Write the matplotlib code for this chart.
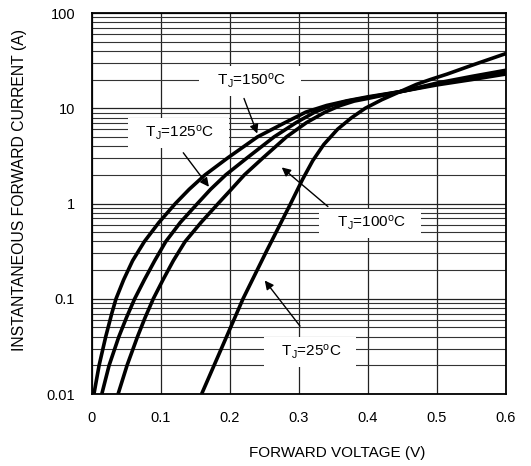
import matplotlib
matplotlib.use("Agg")
import matplotlib.pyplot as plt
from matplotlib.ticker import LogLocator, NullFormatter, FixedLocator

plt.rcParams['font.family'] = ['Liberation Sans', 'DejaVu Sans']
plt.rcParams['mathtext.fontset'] = 'custom'
plt.rcParams['mathtext.rm'] = 'Liberation Sans'
plt.rcParams['mathtext.it'] = 'Liberation Sans'

# forward voltage (V) / instantaneous forward current (A)
v_25 = [0.159, 0.189, 0.219, 0.253, 0.288, 0.305, 0.320, 0.336, 0.356, 0.376, 0.396, 0.42,
        0.445, 0.47, 0.49, 0.515, 0.55, 0.60]
i_25 = [0.01, 0.0316, 0.1, 0.316, 1.0, 1.78, 2.82, 4.17, 6.03, 7.94, 10.0, 12.3,
        14.8, 17.8, 20.0, 22.9, 28.2, 37.6]

v_100 = [0.038, 0.051, 0.066, 0.077, 0.089, 0.103, 0.118, 0.135, 0.158, 0.183, 0.202, 0.221,
         0.248, 0.282, 0.311, 0.338, 0.36, 0.38, 0.40, 0.45, 0.50, 0.55, 0.60]
i_100 = [0.01, 0.02, 0.0398, 0.0631, 0.1, 0.158, 0.251, 0.398, 0.631, 1.0, 1.41, 2.0,
         3.02, 5.01, 7.08, 9.12, 10.7, 11.9, 12.7, 15.1, 18.4, 21.6, 25.1]

v_125 = [0.0144, 0.025, 0.039, 0.050, 0.062, 0.076, 0.091, 0.107, 0.128, 0.153, 0.172, 0.194,
         0.225, 0.264, 0.296, 0.323, 0.347, 0.37, 0.40, 0.45, 0.50, 0.55, 0.60]
i_125 = [0.01, 0.02, 0.0398, 0.0631, 0.1, 0.158, 0.251, 0.398, 0.631, 1.0, 1.41, 2.0,
         3.02, 5.01, 7.08, 9.12, 10.7, 11.9, 13.0, 15.1, 18.0, 20.9, 24.0]

v_150 = [0.003, 0.0105, 0.020, 0.029, 0.035, 0.046, 0.059, 0.076, 0.097, 0.121, 0.141, 0.164,
         0.197, 0.240, 0.280, 0.310, 0.340, 0.37, 0.40, 0.45, 0.50, 0.55, 0.60]
i_150 = [0.01, 0.02, 0.0398, 0.0708, 0.1, 0.158, 0.251, 0.398, 0.631, 1.0, 1.41, 2.0,
         3.02, 5.01, 7.08, 9.12, 10.7, 12.0, 13.2, 15.1, 17.6, 20.0, 22.9]

x_ticks = [0, 0.1, 0.2, 0.3, 0.4, 0.5, 0.6]
x_ticklabels = ['0', '0.1', '0.2', '0.3', '0.4', '0.5', '0.6']
y_ticks = [0.01, 0.1, 1, 10, 100]
y_ticklabels = ['0.01', '0.1', '1', '10', '100']

# label text, label position, arrow tail, arrow tip
labels = [
    (r'T$_{\rm J}$=150$^{\rm o}$C', (0.229, 19.4), (0.219, 13.5), (0.241, 5.1)),
    (r'T$_{\rm J}$=125$^{\rm o}$C', (0.125, 5.5), (0.130, 3.6), (0.172, 1.42)),
    (r'T$_{\rm J}$=100$^{\rm o}$C', (0.403, 0.62), (0.345, 0.89), (0.272, 2.5)),
    (r'T$_{\rm J}$=25$^{\rm o}$C', (0.316, 0.0275), (0.304, 0.049), (0.248, 0.164)),
]

fig = plt.figure(figsize=(5.31, 4.66), dpi=100)
ax = fig.add_axes([0.173, 0.1545, 0.78, 0.8175])

for v, i in [(v_25, i_25), (v_100, i_100), (v_125, i_125), (v_150, i_150)]:
    ax.plot(v, i, color='black', lw=2.6, solid_capstyle='butt', solid_joinstyle='round', zorder=3)

ax.set_yscale('log')
ax.set_xlim(0, 0.6)
ax.set_ylim(0.01, 100)

ax.xaxis.set_major_locator(FixedLocator(x_ticks))
ax.set_xticklabels(x_ticklabels)
ax.yaxis.set_major_locator(FixedLocator(y_ticks))
ax.set_yticklabels(y_ticklabels)
ax.yaxis.set_minor_locator(LogLocator(base=10, subs=range(2, 10)))
ax.yaxis.set_minor_formatter(NullFormatter())

ax.grid(True, which='major', color='#222222', lw=0.9)
ax.grid(True, which='minor', axis='y', color='#333333', lw=0.8)
ax.tick_params(which='both', length=0)
ax.tick_params(axis='y', pad=12, labelsize=10.5)
ax.tick_params(axis='x', pad=12, labelsize=10.5)
for s in ax.spines.values():
    s.set_linewidth(1.3)

for text, pos, tail, tip in labels:
    ax.text(pos[0], pos[1], '   ' + text + '   ', fontsize=11, ha='center', va='center',
            bbox=dict(facecolor='white', edgecolor='none', pad=4), zorder=4)
    ax.annotate('', xy=tip, xytext=tail,
                arrowprops=dict(arrowstyle='-|>', color='black', lw=1.0, mutation_scale=13),
                zorder=5)

fig.text(337 / 531, 1 - 453 / 466, 'FORWARD VOLTAGE (V)', fontsize=11, ha='center', va='center')
fig.text(20 / 531, 1 - 190 / 466, 'INSTANTANEOUS FORWARD CURRENT (A)', fontsize=11.3,
         rotation=90, ha='center', va='center')

fig.savefig('out.png', dpi=100)
